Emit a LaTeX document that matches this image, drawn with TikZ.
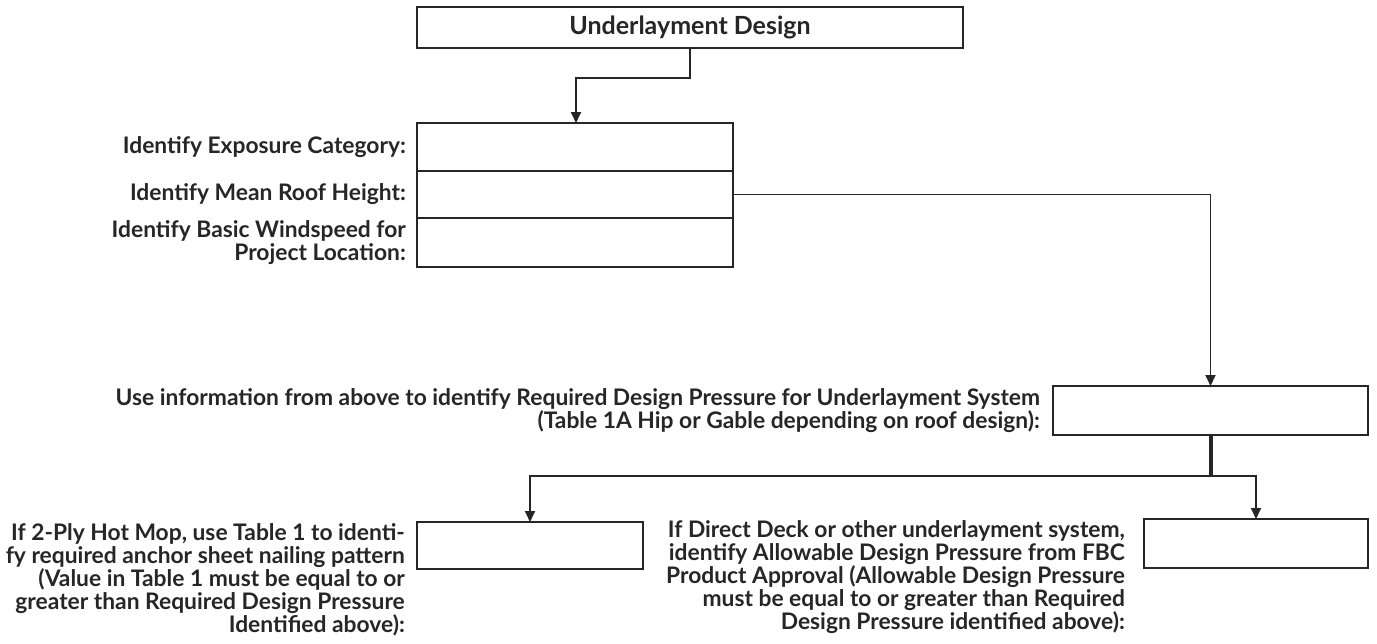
\documentclass[tikz,border=0pt]{standalone}
\usepackage{fontspec}
\setmainfont{Lato}
\usetikzlibrary{arrows.meta}
\tikzset{
  box/.style={draw=black!85, line width=1.8pt, minimum width=#1, inner sep=0pt, outer sep=0pt},
  lbl/.style={align=right, inner sep=0pt, font=\bfseries\fontsize{22.8}{23}\selectfont, text=black!85},
  conn/.style={draw=black!85, line width=1.8pt},
  arr/.style={conn, -{Triangle[length=11pt,width=10pt]}},
}
\begin{document}
\begin{tikzpicture}[x=1pt,y=-1pt]
\useasboundingbox (0,0) rectangle (1377,643);
% top box
\node[box=546pt, minimum height=41pt, font=\bfseries\fontsize{25}{25}\selectfont, text=black!85] (top) at (690,27.5) {Underlayment Design};
% group
\node[box=316pt, minimum height=48pt] (r1) at (575,147) {};
\node[box=316pt, minimum height=47pt] (r2) at (575,194.5) {};
\node[box=316pt, minimum height=49pt] (r3) at (575,242.5) {};
\node[lbl, anchor=east] (l1) at ([xshift=-11pt]r1.west) {Identify Exposure Category:};
\node[lbl, anchor=east] (l2) at ([xshift=-11pt]r2.west) {Identify Mean Roof Height:};
\node[lbl, anchor=east] (l3) at ([xshift=-11pt]r3.west) {Identify Basic Windspeed for\\Project Location:};
% box2
\node[box=315pt, minimum height=49pt] (b2) at (1210.5,410.5) {};
\node[lbl, anchor=east] (lb2) at ([xshift=-13pt]b2.west) {Use information from above to identify Required Design Pressure for Underlayment System\\(Table 1A Hip or Gable depending on roof design):};
% bottom boxes
\node[box=226pt, minimum height=47pt] (bl) at (530,545.5) {};
\node[box=224pt, minimum height=49pt] (br) at (1256,543.5) {};
\node[lbl, anchor=north east] (lbl) at ([xshift=-12pt,yshift=-1pt]bl.north west) {If 2-Ply Hot Mop, use Table 1 to identi-\\fy required anchor sheet nailing pattern\\(Value in Table 1 must be equal to or\\greater than Required Design Pressure\\Identified above):};
\node[lbl, anchor=north east] (lbr) at ([xshift=-19pt,yshift=-1pt]br.north west) {If Direct Deck or other underlayment system,\\identify Allowable Design Pressure from FBC\\Product Approval (Allowable Design Pressure\\must be equal to or greater than Required\\Design Pressure identified above):};
% connectors
\coordinate (t1) at (576,78);
\draw[arr] (top.south) |- (t1) -- (t1 |- r1.north);
\draw[arr] (r2.east) -| (b2.north);
\coordinate (j) at (1210.5,476);
\draw[conn, line width=4pt] (b2.south) -- (j);
\draw[arr] (j) -| (bl.north);
\draw[arr] (j) -| (br.north);
\end{tikzpicture}
\end{document}
